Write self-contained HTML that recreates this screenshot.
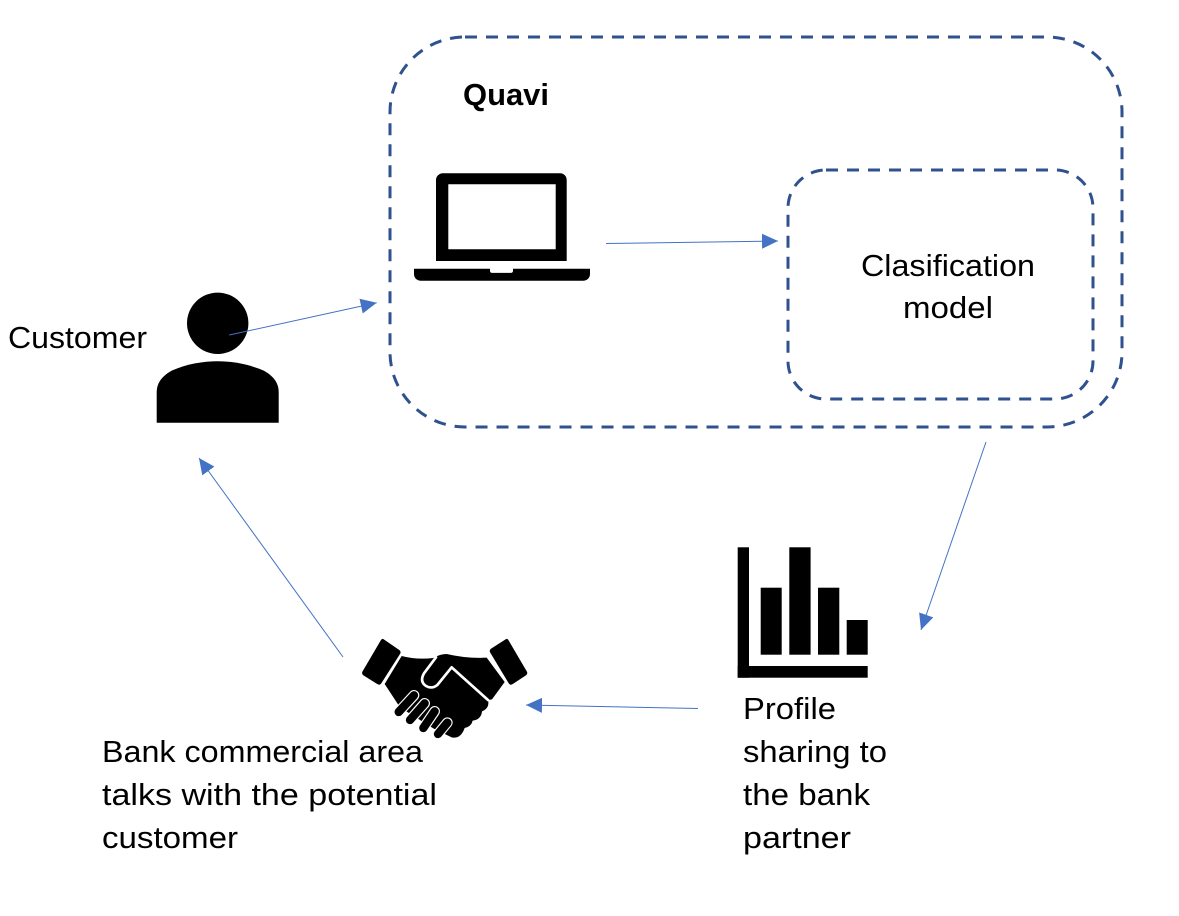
<!DOCTYPE html>
<html>
<head>
<meta charset="utf-8">
<style>
html,body{margin:0;padding:0;background:#fff;width:1179px;height:916px;overflow:hidden}
svg{display:block}
text{font-family:"Liberation Sans",sans-serif;font-size:31px;fill:#000}
</style>
</head>
<body>
<svg width="1179" height="916" viewBox="0 0 1179 916" xmlns="http://www.w3.org/2000/svg">
<defs>
<marker id="a" markerUnits="userSpaceOnUse" markerWidth="18" markerHeight="16" refX="16" refY="7.5" orient="auto">
<polygon points="0,0 16,7.5 0,15" fill="#4472C4"/>
</marker>
</defs>
<rect x="0" y="0" width="1179" height="916" fill="#fff"/>

<!-- containers -->
<rect x="390" y="37" width="732" height="390" rx="75" ry="75" fill="none" stroke="#2F528F" stroke-width="3" stroke-dasharray="12 9"/>
<rect x="788" y="170" width="305" height="229" rx="38" ry="38" fill="none" stroke="#2F528F" stroke-width="3" stroke-dasharray="12 9"/>

<!-- person -->
<circle cx="217.7" cy="323.3" r="30.7" fill="#000"/>
<path d="M156.7 422.7V392C156.7 383 162 376 172 370.500C187 364 203 361.300 217.700 361.300C232 361.300 248 364 263.500 370.500C273.500 376 278.700 383 278.700 392V422.700Z" fill="#000"/>

<!-- laptop -->
<path fill-rule="evenodd" fill="#000" d="M443 173.300H560C564 173.300 566.700 176.500 566.700 180V261H436V180C436 176.500 439 173.300 443 173.300ZM448.300 184.300V249.300H555.700V184.300Z"/>
<path fill="#000" d="M414 268.700H490V271C490 272.200 491 272.900 492 272.900H511C512 272.900 513 272.200 513 271V268.700H590V274C590 278 587 280.700 583 280.700H421C417 280.700 414 278 414 274Z"/>

<!-- chart -->
<g fill="#000">
<rect x="737.700" y="547.300" width="11.300" height="130.400"/>
<rect x="737.700" y="666" width="130" height="11.700"/>
<rect x="760.700" y="587.700" width="21" height="67"/>
<rect x="789.300" y="547.300" width="21.300" height="107.400"/>
<rect x="818" y="587.700" width="21.300" height="67"/>
<rect x="846.700" y="620" width="21" height="34.700"/>
</g>

<!-- handshake -->
<g transform="translate(350 620) scale(.33333)">
<path fill="#000" stroke="#000" stroke-width="3" stroke-linejoin="round" d="M100 59L148 92Q152 96 149 101L92 190Q88 195 83 191L40 164Q36 160 39 155L94 61Q97 57 100 59Z"/>
<path fill="#000" stroke="#000" stroke-width="3" stroke-linejoin="round" d="M468 59L423 88Q419 92 422 97L478 190Q482 195 487 191L528 164Q532 160 529 155L474 61Q471 57 468 59Z"/>
<path fill="#000" d="M155 108Q200 120 250 114Q270 102 290 102Q350 116 410 113L464 186L426 238L414 240Q420 264 396 274Q394 298 368 302Q364 320 344 324Q332 358 305 352L250 325L150 262L104 192Z"/>
<path fill="none" stroke="#fff" stroke-width="8" stroke-linecap="round" stroke-linejoin="round" d="M258 112L222 160Q208 185 228 198Q246 208 262 195L305 142L414 240"/>
<g fill="none" stroke-linecap="round">
<path stroke="#fff" stroke-width="32" d="M192 226L146 276M224 250L180 300M254 274L220 324M292 308L264 342"/>
<path stroke="#000" stroke-width="25" d="M192 226L146 276M224 250L180 300M254 274L220 324M292 308L264 342"/>
</g>
</g>

<!-- arrows -->
<g fill="none" stroke="#4472C4" stroke-width="1">
<line x1="229.300" y1="335" x2="376.700" y2="302.700" marker-end="url(#a)"/>
<line x1="606" y1="243.500" x2="778" y2="241" marker-end="url(#a)"/>
<line x1="986" y1="442" x2="921" y2="630" marker-end="url(#a)"/>
<line x1="698" y1="708.500" x2="526" y2="705" marker-end="url(#a)"/>
<line x1="343" y1="657" x2="199" y2="458" marker-end="url(#a)"/>
</g>

<!-- labels -->
<text x="8" y="348" textLength="139" lengthAdjust="spacingAndGlyphs">Customer</text>
<text x="463" y="105" textLength="86" lengthAdjust="spacingAndGlyphs" font-weight="bold">Quavi</text>
<text x="861" y="276" textLength="174" lengthAdjust="spacingAndGlyphs">Clasification</text>
<text x="903" y="318" textLength="90" lengthAdjust="spacingAndGlyphs">model</text>
<text x="102" y="762" textLength="321" lengthAdjust="spacingAndGlyphs">Bank commercial area</text>
<text x="102" y="805" textLength="335" lengthAdjust="spacingAndGlyphs">talks with the potential</text>
<text x="102" y="848" textLength="136" lengthAdjust="spacingAndGlyphs">customer</text>
<text x="743" y="719" textLength="93" lengthAdjust="spacingAndGlyphs">Profile</text>
<text x="743" y="762" textLength="144" lengthAdjust="spacingAndGlyphs">sharing to</text>
<text x="743" y="805" textLength="127" lengthAdjust="spacingAndGlyphs">the bank</text>
<text x="743" y="848" textLength="108" lengthAdjust="spacingAndGlyphs">partner</text>
</svg>
</body>
</html>
